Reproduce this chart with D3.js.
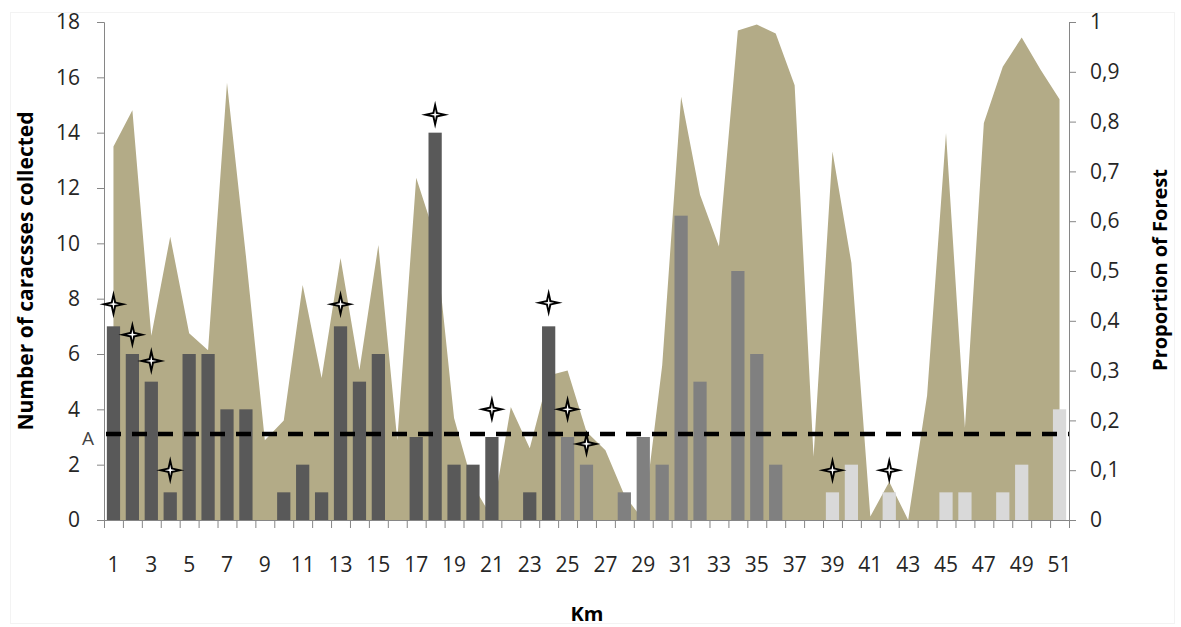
<!DOCTYPE html>
<html>
<head>
<meta charset="utf-8">
<script src="https://cdn.jsdelivr.net/npm/d3@7"></script>
<style>
  html, body { margin: 0; padding: 0; background: #fff; }
  svg { display: block; }
  text { font-family: "Open Sans", "Liberation Sans", sans-serif; }
</style>
</head>
<body>
<svg id="chart" width="1181" height="627"></svg>
<script>
// ---------- data ----------
const km = [1,2,3,4,5,6,7,8,9,10,11,12,13,14,15,16,17,18,19,20,21,22,23,24,25,26,27,28,29,30,31,32,33,34,35,36,37,38,39,40,41,42,43,44,45,46,47,48,49,50,51];
const carcasses = [7,6,5,1,6,6,4,4,0,1, 2,1,7,5,6,0,3,14,2,2, 3,0,1,7,3,2,0,1,3,2, 11,5,0,9,6,2,0,0,1,2, 0,1,0,0,1,1,0,1,2,0,4];
const forest = [0.75,0.823,0.37,0.569,0.375,0.341,0.878,0.53,0.16,0.2,
                0.472,0.285,0.526,0.301,0.552,0.16,0.687,0.57,0.205,0.07,
                0.005,0.227,0.144,0.29,0.3,0.177,0.14,0.05,0.0,0.31,
                0.85,0.653,0.549,0.983,0.995,0.977,0.873,0.127,0.74,0.516,
                0.007,0.077,0.0,0.25,0.777,0.185,0.797,0.91,0.969,0.904,0.845];
const zoneStartKm = [1, 25, 37];           // km where each road section starts
const starKm = [1,2,3,4,13,18,21,24,25,26,39,42];
const starValue = [7.8,6.7,5.75,1.8,7.8,14.65,4.0,7.85,4.0,2.75,1.8,1.8];
const thresholdValue = 3.11;
const thresholdLabel = "A";
const leftTicks = [0,2,4,6,8,10,12,14,16,18];
const rightTicks = [0,0.1,0.2,0.3,0.4,0.5,0.6,0.7,0.8,0.9,1];
const xTickLabels = km.filter(k => k % 2 === 1);
const titleLeft = "Number of caracsses collected";
const titleRight = "Proportion of Forest";
const titleX = "Km";

// ---------- layout ----------
const L = 104, R = 1069, T = 22, B = 520;
const svg = d3.select("#chart");
const axisColor = "#868686";
const zoneColors = ["#595959", "#808080", "#d9d9d9"];

svg.append("rect").attr("x", 10.5).attr("y", 12.5).attr("width", 1164).attr("height", 611)
  .attr("fill", "#fff").attr("stroke", "#f3f3f3");

const x = d3.scaleBand().domain(km).range([L, R]).paddingInner(0.3).paddingOuter(0.15);
const xb = d3.scaleLinear().domain([0.5, km.length + 0.5]).range([L, R]);
const y = d3.scaleLinear().domain([0, 18]).range([B, T]);
const y2 = d3.scaleLinear().domain([0, 1]).range([B, T]);
const cx = k => x(k) + x.bandwidth() / 2;

const zoneOf = k => { let z = 0; zoneStartKm.forEach((s, i) => { if (k >= s) z = i; }); return z; };

// area (forest proportion)
const area = d3.area()
  .x((d, i) => cx(km[i]))
  .y0(B)
  .y1(d => y2(d));
svg.append("path").datum(forest).attr("d", area).attr("fill", "#b3ab87");

// bars
svg.append("g").selectAll("rect").data(km).join("rect")
  .attr("x", k => x(k))
  .attr("width", x.bandwidth())
  .attr("y", (k, i) => y(carcasses[i]))
  .attr("height", (k, i) => B - y(carcasses[i]))
  .attr("fill", k => zoneColors[zoneOf(k)]);

// axes
const gx = svg.append("g").attr("transform", `translate(0,${B})`)
  .call(d3.axisBottom(xb).tickValues(d3.range(0.5, km.length + 1, 1)).tickSize(8).tickFormat(""));
gx.select(".domain").attr("stroke", axisColor).attr("d", `M${L},0.5H${R}`);
gx.selectAll(".tick line").attr("stroke", axisColor);

const gxl = svg.append("g");
gxl.selectAll("text").data(xTickLabels).join("text")
  .attr("x", k => cx(k)).attr("y", 572)
  .attr("text-anchor", "middle").attr("font-size", 21).attr("fill", "#262626")
  .text(k => k);

const gyl = svg.append("g").attr("transform", `translate(${L},0)`)
  .call(d3.axisLeft(y).tickValues(leftTicks).tickSize(7).tickPadding(17));
gyl.select(".domain").attr("stroke", axisColor);
gyl.selectAll(".tick line").attr("stroke", axisColor);
gyl.selectAll(".tick text").attr("font-size", 21).attr("fill", "#262626")
  .attr("font-family", "'Open Sans', sans-serif");

const gyr = svg.append("g").attr("transform", `translate(${R},0)`)
  .call(d3.axisRight(y2).tickValues(rightTicks).tickSize(7).tickPadding(14)
    .tickFormat(d => String(d).replace(".", ",")));
gyr.select(".domain").attr("stroke", axisColor);
gyr.selectAll(".tick line").attr("stroke", axisColor);
gyr.selectAll(".tick text").attr("font-size", 21).attr("fill", "#262626")
  .attr("font-family", "'Open Sans', sans-serif");

// threshold dashed line
svg.append("line")
  .attr("x1", L + 2).attr("x2", R)
  .attr("y1", y(thresholdValue)).attr("y2", y(thresholdValue))
  .attr("stroke", "#000").attr("stroke-width", 4.5).attr("stroke-dasharray", "15,11");
svg.append("text").attr("x", 88).attr("y", y(thresholdValue) + 11)
  .attr("text-anchor", "middle").attr("font-size", 19).attr("fill", "#444")
  .text(thresholdLabel);

// stars
function starPath(R0, r0) {
  const pts = [];
  for (let i = 0; i < 8; i++) {
    const a = i * Math.PI / 4 - Math.PI / 2;
    const rr = i % 2 === 0 ? R0 : r0;
    pts.push([rr * Math.cos(a), rr * Math.sin(a)]);
  }
  return "M" + pts.map(p => p.join(",")).join("L") + "Z";
}
const stars = svg.append("g").selectAll("g").data(starKm).join("g")
  .attr("transform", (k, i) => `translate(${cx(k)},${y(starValue[i])})`);
stars.append("path").attr("d", starPath(14, 3.6)).attr("fill", "#000");
stars.append("path").attr("d", starPath(5.5, 1.2)).attr("fill", "#fff");

// titles
svg.append("text").attr("transform", "translate(33,271) rotate(-90)")
  .attr("text-anchor", "middle").attr("font-size", 21).attr("font-weight", "bold").attr("fill", "#000")
  .text(titleLeft);
svg.append("text").attr("transform", "translate(1167,270) rotate(-90)")
  .attr("text-anchor", "middle").attr("font-size", 20).attr("font-weight", "bold").attr("fill", "#000")
  .text(titleRight);
svg.append("text").attr("x", 587).attr("y", 621)
  .attr("text-anchor", "middle").attr("font-size", 20).attr("font-weight", "bold").attr("fill", "#000")
  .text(titleX);
</script>
</body>
</html>
